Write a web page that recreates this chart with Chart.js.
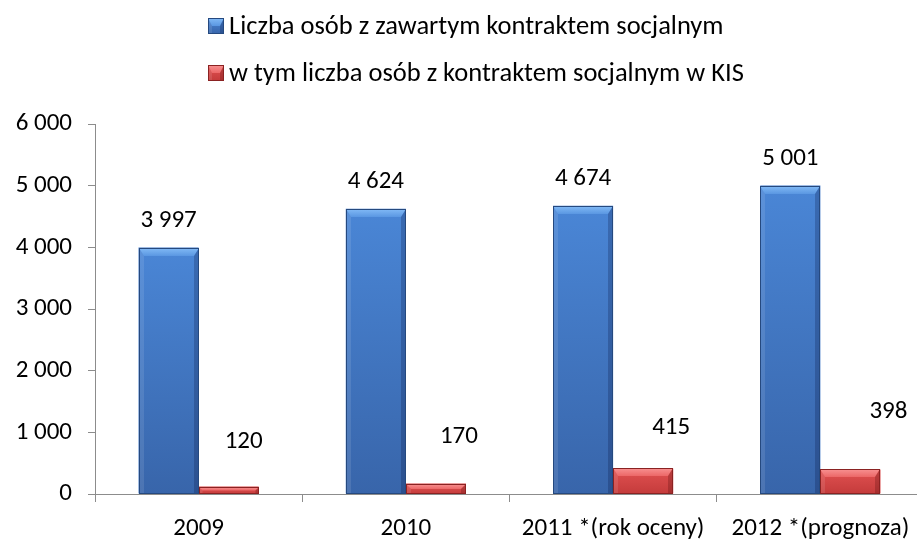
<!DOCTYPE html>
<html><head><meta charset="utf-8">
<script src="https://cdn.jsdelivr.net/npm/chart.js@4"></script>
<style>html,body{margin:0;padding:0;overflow:hidden;background:#fff}#wrap{width:924px;height:541px;position:relative}</style>
</head><body><div id="wrap"><canvas id="c"></canvas></div>
<script>
const categories = ['2009', '2010', '2011 *(rok oceny)', '2012 *(prognoza)'];
const seriesNames = ['Liczba osób z zawartym kontraktem socjalnym', 'w tym liczba osób z kontraktem socjalnym w KIS'];
const contractTotal = [3997, 4624, 4674, 5001];
const contractKIS = [120, 170, 415, 398];
const yMin = 0, yMax = 6000, yStep = 1000;

const FONT = 'Carlito, Calibri, Lato, sans-serif';
const palettes = [
  {base:'#4079c8', top:'#4a86d6', bottom:'#3865aa', hi1:'#82baf6', hi2:'#5a97e2', left:'rgba(255,255,255,0.10)', right:'rgba(0,10,50,0.22)', edge:'#25497f'},
  {base:'#d84545', top:'#e25252', bottom:'#c43b3b', hi1:'#f89292', hi2:'#ec6767', left:'rgba(255,255,255,0.10)', right:'rgba(60,0,0,0.22)', edge:'#8a2222'}
];
// label placement offsets (pixels, style only)
const labelOffsets = [
  [{dx:0,dy:27},{dx:0,dy:27},{dx:0,dy:27},{dx:0,dy:27}],
  [{dx:15,dy:45},{dx:23,dy:47},{dx:28,dy:41},{dx:38,dy:58}]
];

function fmt(v){ return String(v).replace(/\B(?=(\d{3})+(?!\d))/g, ' '); }

function shadeBar(ctx, l, t, r, b, p){
  const w = r - l, h = b - t;
  if (h <= 0 || w <= 0) return;
  const bv = Math.min(8, h / 2), sv = Math.min(5, w / 4, h / 2);
  let g = ctx.createLinearGradient(0, t, 0, b);
  g.addColorStop(0, p.top); g.addColorStop(1, p.bottom);
  ctx.fillStyle = g; ctx.fillRect(l, t, w, h);
  ctx.beginPath(); ctx.moveTo(l, t); ctx.lineTo(r, t); ctx.lineTo(r - sv, t + bv); ctx.lineTo(l + sv, t + bv); ctx.closePath();
  g = ctx.createLinearGradient(0, t, 0, t + bv); g.addColorStop(0, p.hi1); g.addColorStop(1, p.hi2);
  ctx.fillStyle = g; ctx.fill();
  ctx.beginPath(); ctx.moveTo(l, t); ctx.lineTo(l + sv, t + bv); ctx.lineTo(l + sv, b); ctx.lineTo(l, b); ctx.closePath();
  ctx.fillStyle = p.left; ctx.fill();
  ctx.beginPath(); ctx.moveTo(r, t); ctx.lineTo(r - sv, t + bv); ctx.lineTo(r - sv, b); ctx.lineTo(r, b); ctx.closePath();
  ctx.fillStyle = p.right; ctx.fill();
  ctx.strokeStyle = p.edge; ctx.lineWidth = 1; ctx.strokeRect(l + 0.5, t + 0.5, w - 1, h - 1);
}

const bevelPlugin = {
  id: 'bevel',
  afterDatasetsDraw(chart){
    const ctx = chart.ctx;
    ctx.save();
    chart.data.datasets.forEach((ds, i) => {
      const meta = chart.getDatasetMeta(i);
      meta.data.forEach(el => {
        const l = el.x - el.width / 2, r = el.x + el.width / 2;
        shadeBar(ctx, Math.round(l), Math.round(el.y), Math.round(r), Math.round(el.base), palettes[i]);
      });
    });
    ctx.fillStyle = '#000';
    ctx.font = '25px ' + FONT;
    ctx.textAlign = 'center'; ctx.textBaseline = 'middle';
    chart.data.datasets.forEach((ds, i) => {
      const meta = chart.getDatasetMeta(i);
      meta.data.forEach((el, j) => {
        const o = labelOffsets[i][j];
        ctx.fillText(fmt(ds.data[j]), el.x + o.dx, el.y - o.dy);
      });
    });
    ctx.restore();
  }
};

const legendPlugin = {
  id: 'customLegend',
  afterDraw(chart){
    const ctx = chart.ctx;
    ctx.save();
    const rows = [26, 73];
    chart.data.datasets.forEach((ds, i) => {
      const y = rows[i];
      shadeBar(ctx, 208, y - 8, 224, y + 8, palettes[i]);
      ctx.fillStyle = '#000';
      ctx.font = '26.5px ' + FONT;
      ctx.textAlign = 'left'; ctx.textBaseline = 'middle';
      ctx.fillText(ds.label, 229, y + 1);
    });
    ctx.restore();
  }
};

new Chart(document.getElementById('c'), {
  type: 'bar',
  data: {
    labels: categories,
    datasets: [
      {label: seriesNames[0], data: contractTotal, backgroundColor: palettes[0].base, borderWidth: 0},
      {label: seriesNames[1], data: contractKIS, backgroundColor: palettes[1].base, borderWidth: 0}
    ]
  },
  options: {
    responsive: true, maintainAspectRatio: false, animation: false,
    layout: {padding: {top: 124, left: 0, right: 0, bottom: 0}},
    plugins: {legend: {display: false}, tooltip: {enabled: false}},
    datasets: {bar: {categoryPercentage: 0.58, barPercentage: 1}},
    scales: {
      x: {
        grid: {display: true, drawOnChartArea: false, drawTicks: true, tickLength: 8, color: '#8c8c8c', offset: true},
        border: {display: true, color: '#8c8c8c', width: 1},
        ticks: {color: '#000', font: {family: FONT, size: 25}, padding: 12, maxRotation: 0, autoSkip: false},
        afterFit(s){ s.height = 47; }
      },
      y: {
        min: yMin, max: yMax,
        grid: {display: true, drawOnChartArea: false, drawTicks: true, tickLength: 7, color: '#8c8c8c'},
        border: {display: true, color: '#8c8c8c', width: 1},
        ticks: {stepSize: yStep, color: '#000', font: {family: FONT, size: 25}, padding: 16, callback: v => fmt(v)},
        afterFit(s){ s.width = 95; }
      }
    }
  },
  plugins: [bevelPlugin, legendPlugin]
});
</script></body></html>
